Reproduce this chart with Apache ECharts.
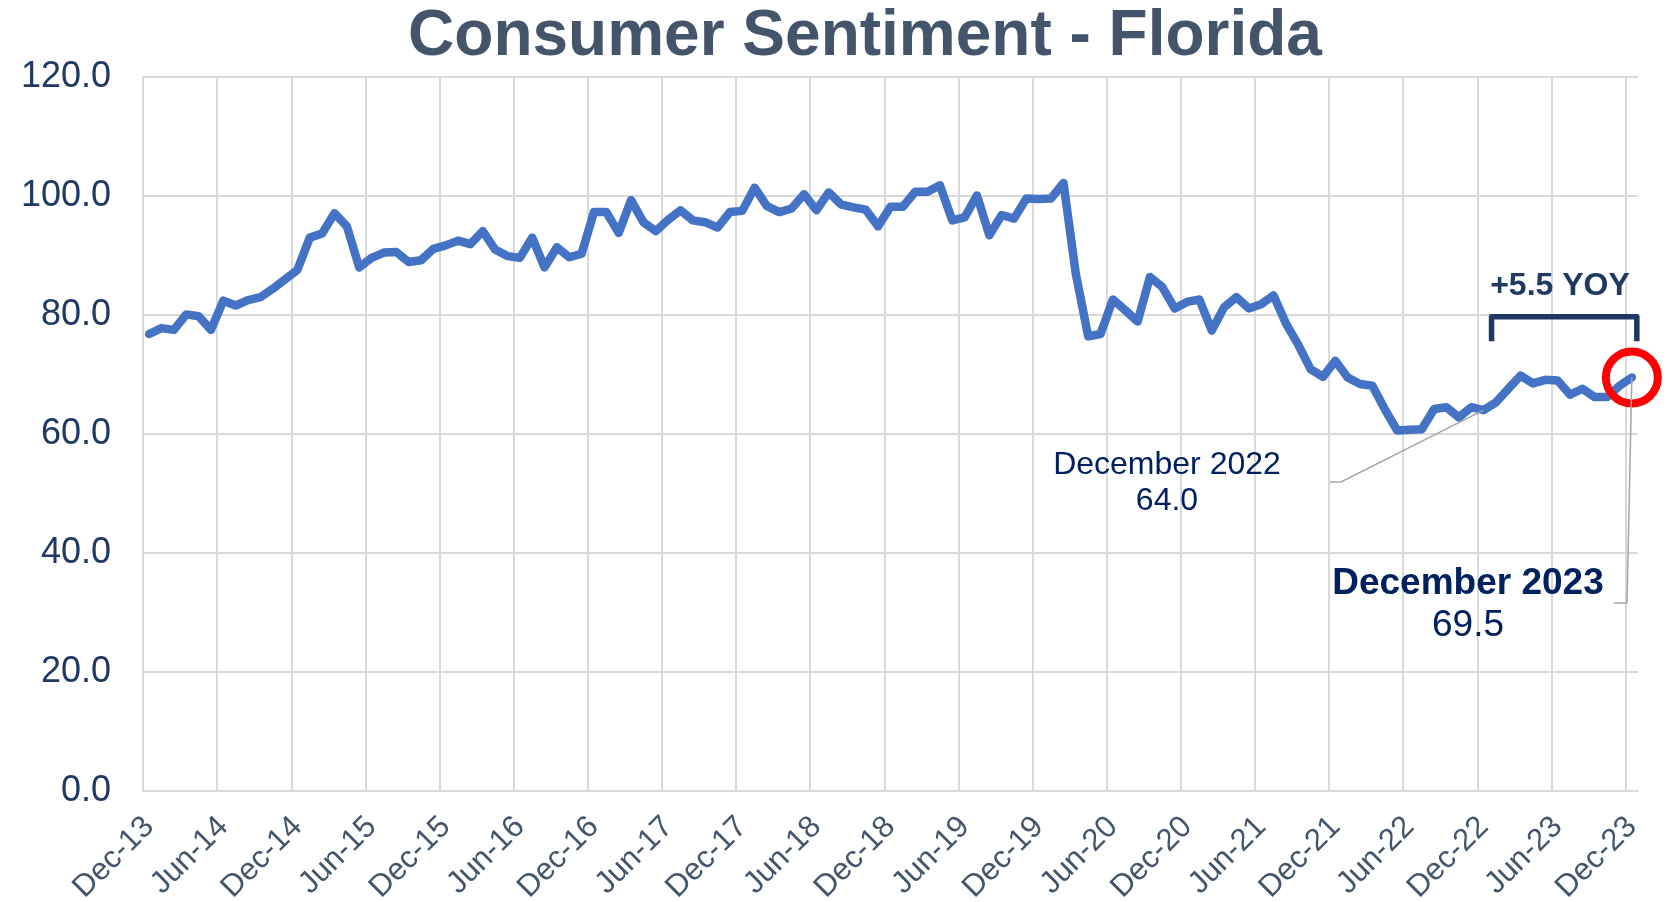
<!DOCTYPE html>
<html>
<head>
    <meta charset="utf-8">
    <title>Consumer Sentiment - Florida</title>
    <script type="text/javascript" src="https://cdn.jsdelivr.net/npm/echarts@6/dist/echarts.min.js"></script>
    <style>
        html, body { margin: 0; padding: 0; background: #fff; }
    </style>
</head>
<body>
<div id="main" style="width: 1673px;height:902px;"></div>
<script type="text/javascript">
    // month labels, Dec-13 .. Dec-23 (one per month)
    var monthNames = ['Jan', 'Feb', 'Mar', 'Apr', 'May', 'Jun', 'Jul', 'Aug', 'Sep', 'Oct', 'Nov', 'Dec'];
    var firstYear = 2013, firstMonth = 11, monthCount = 121;
    var categories = [];
    for (var i = 0; i < monthCount; i++) {
        var m = (firstMonth + i) % 12;
        var y = firstYear + Math.floor((firstMonth + i) / 12);
        categories.push(monthNames[m] + '-' + String(y).slice(2));
    }

    // index of sentiment
    var sentiment = [
        76.8, 77.8, 77.5, 80.1, 79.8, 77.5, 82.4, 81.6, 82.5, 83.0, 84.4, 86.0,
        87.6, 93.0, 93.7, 97.1, 94.9, 88.0, 89.6, 90.5, 90.6, 88.9, 89.2, 91.1,
        91.7, 92.5, 91.9, 94.1, 91.0, 89.9, 89.6, 93.0, 88.0, 91.4, 89.7, 90.3,
        97.3, 97.3, 93.8, 99.3, 95.6, 94.1, 96.0, 97.6, 95.9, 95.6, 94.7, 97.3,
        97.5, 101.4, 98.3, 97.3, 97.9, 100.3, 97.6, 100.6, 98.6, 98.1, 97.7, 94.9,
        98.2, 98.2, 100.7, 100.7, 101.8, 95.9, 96.4, 100.1, 93.4, 96.8, 96.2, 99.6,
        99.5, 99.6, 102.2, 86.9, 76.4, 76.8, 82.6, 80.8, 78.9, 86.4, 84.7, 81.1,
        82.2, 82.6, 77.4, 81.3, 83.0, 81.1, 81.8, 83.3, 78.6, 75.0, 70.9, 69.6,
        72.3, 69.5, 68.4, 68.1, 64.2, 60.6, 60.7, 60.8, 64.2, 64.5, 62.8, 64.5,
        64.0, 65.3, 67.6, 69.8, 68.5, 69.1, 69.0, 66.6, 67.6, 66.2, 66.2, 68.1,
        69.5
    ];

    var yMin = 0, yMax = 120, yStep = 20;

    // callouts
    var prevIndex = 108, lastIndex = 120;
    var prevLabel = ['December 2022', '64.0'];
    var lastLabel = ['December 2023', '69.5'];
    var yoyLabel = '+5.5 YOY';

    var font = 'Liberation Sans, Arial, sans-serif';
    var gridColor = '#d9d9d9';

    var myChart = echarts.init(document.getElementById('main'));
    var option = {
        animation: false,
        title: {
            text: 'Consumer Sentiment - Florida',
            left: 865,
            top: 5,
            textAlign: 'center',
            padding: 0,
            textStyle: { fontSize: 64, fontWeight: 'bold', color: '#44546a', fontFamily: font }
        },
        grid: { left: 143, right: 35, top: 77, bottom: 111, outerBoundsMode: 'none' },
        xAxis: {
            type: 'category',
            data: categories,
            boundaryGap: true,
            axisLine: { show: true, lineStyle: { color: gridColor, width: 2 } },
            axisTick: { show: false },
            axisLabel: {
                interval: 5, rotate: 45, margin: 31,
                fontSize: 31, color: '#44546a', fontFamily: font
            },
            splitLine: {
                show: true, interval: 5, showMaxLine: false,
                lineStyle: { color: gridColor, width: 2 }
            }
        },
        yAxis: {
            type: 'value',
            min: yMin, max: yMax, interval: yStep,
            axisLine: { show: false },
            axisTick: { show: false },
            axisLabel: {
                margin: 32, fontSize: 36, color: '#1f3864', fontFamily: font,
                formatter: function (v) { return v.toFixed(1); }
            },
            splitLine: { lineStyle: { color: gridColor, width: 2 } }
        },
        series: [{
            type: 'line',
            data: sentiment,
            showSymbol: false,
            lineStyle: { color: '#4472c4', width: 8.5, join: 'round', cap: 'round' },
            itemStyle: { color: '#4472c4' },
            markPoint: {
                silent: true,
                symbol: 'circle',
                symbolSize: 52,
                itemStyle: { color: 'rgba(0,0,0,0)', borderColor: '#ff0000', borderWidth: 8 },
                label: { show: false },
                data: [{ coord: [lastIndex, sentiment[lastIndex]] }]
            }
        }]
    };
    myChart.setOption(option);

    // callouts placed from the axes
    var pPrev = myChart.convertToPixel({ seriesIndex: 0 }, [prevIndex, sentiment[prevIndex]]);
    var pLast = myChart.convertToPixel({ seriesIndex: 0 }, [lastIndex, sentiment[lastIndex]]);
    var yTop = myChart.convertToPixel({ yAxisIndex: 0 }, 79.7);
    var yLeg = myChart.convertToPixel({ yAxisIndex: 0 }, 75.6);
    var xL = pPrev[0] + 8, xR = pLast[0] + 5;
    var leader = { stroke: '#a6a6a6', lineWidth: 1.5, fill: null };
    var navy = '#002060';

    myChart.setOption({
        graphic: [
            { type: 'polyline', z: 5, shape: { points: [[1330, 482], [1341, 482], pPrev] }, style: leader },
            { type: 'polyline', z: 5, shape: { points: [[1614, 603], [1627, 603], pLast] }, style: leader },
            {
                type: 'polyline', z: 5,
                shape: { points: [[xL, yLeg], [xL, yTop], [xR, yTop], [xR, yLeg]] },
                style: { stroke: '#1f3864', lineWidth: 5.5, fill: null, lineJoin: 'round' }
            },
            {
                type: 'text', z: 5, x: 1560, y: 286,
                style: { text: yoyLabel, fill: '#1f3864', font: 'bold 32px ' + font, align: 'center', verticalAlign: 'middle' }
            },
            {
                type: 'text', z: 5, x: 1167, y: 465,
                style: { text: prevLabel[0], fill: navy, font: '32px ' + font, align: 'center', verticalAlign: 'middle' }
            },
            {
                type: 'text', z: 5, x: 1167, y: 501,
                style: { text: prevLabel[1], fill: navy, font: '32px ' + font, align: 'center', verticalAlign: 'middle' }
            },
            {
                type: 'text', z: 5, x: 1468, y: 584,
                style: { text: lastLabel[0], fill: navy, font: 'bold 37px ' + font, align: 'center', verticalAlign: 'middle' }
            },
            {
                type: 'text', z: 5, x: 1468, y: 626,
                style: { text: lastLabel[1], fill: navy, font: '37px ' + font, align: 'center', verticalAlign: 'middle' }
            }
        ]
    });
</script>
</body>
</html>
